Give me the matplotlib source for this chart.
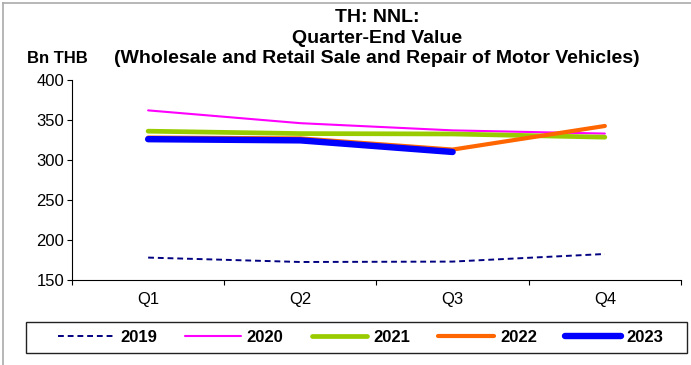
import matplotlib.pyplot as plt
from matplotlib.lines import Line2D
from matplotlib.patches import Rectangle

plt.rcParams['font.family'] = ['Liberation Sans', 'DejaVu Sans']

quarters = ['Q1', 'Q2', 'Q3', 'Q4']
v2019 = [178, 172.5, 173, 182.5]
v2020 = [362, 346, 337, 333]
v2021 = [336, 333, 332.5, 328.5]
v2022 = [328, 327, 313, 342.5]
v2023 = [326, 324.5, 310]

series = [
    ('2019', v2019, '#000080', 1.4, (0, (3, 2))),
    ('2020', v2020, '#FF00FF', 1.5, '-'),
    ('2021', v2021, '#99CC00', 3.4, '-'),
    ('2022', v2022, '#FF6600', 3.0, '-'),
    ('2023', v2023, '#0000FF', 4.6, '-'),
]

fig = plt.figure(figsize=(6.91, 3.65), dpi=100)
ax = fig.add_axes([0.1042, 0.2329, 0.8813, 0.548])

for name, vals, col, lw, ls in series:
    ax.plot(range(len(vals)), vals, color=col, lw=lw, ls=ls, label=name,
            solid_capstyle='round')

ax.set_xlim(-0.5, 3.5)
ax.set_ylim(150, 400)
ax.set_yticks(range(150, 401, 50))
ax.set_xticks([-0.5, 0.5, 1.5, 2.5, 3.5])
ax.set_xticklabels([])
ax.set_xticks(range(4), minor=True)
ax.set_xticklabels(quarters, minor=True)
ax.tick_params(axis='x', which='minor', length=0, pad=9, labelsize=12)
ax.tick_params(axis='x', which='major', length=3.6, direction='out')
ax.tick_params(axis='y', length=3.6, direction='out', labelsize=12, pad=2)
for s in ['top', 'right']:
    ax.spines[s].set_visible(False)

fig.text(0.546, 0.975, 'TH: NNL:\nQuarter-End Value\n(Wholesale and Retail Sale and Repair of Motor Vehicles)',
         ha='center', va='top', fontsize=14, fontweight='bold', linespacing=1.27)
fig.text(0.039, 0.841, 'Bn THB', fontsize=12, fontweight='bold', va='center')

# legend entries without their own frame; the box is drawn separately
leg = fig.legend(loc='center', bbox_to_anchor=(0.5224, 0.0755), ncol=5, frameon=False,
                 handlelength=3.35, columnspacing=1.68, handletextpad=0.36,
                 prop={'weight': 'bold', 'size': 12}, borderaxespad=0)
fig.add_artist(Rectangle((0.0376, 0.0329), 0.9566, 0.085, transform=fig.transFigure,
                         fill=False, edgecolor='#222222', lw=1.0))

# grey frame edges along the left and top
fig.add_artist(Line2D([0.0043, 0.0043], [0, 0.992], transform=fig.transFigure, color='#aaaaaa', lw=1.2))
fig.add_artist(Line2D([0.0043, 1], [0.992, 0.992], transform=fig.transFigure, color='#aaaaaa', lw=1.2))

fig.savefig('out.png', dpi=100)
